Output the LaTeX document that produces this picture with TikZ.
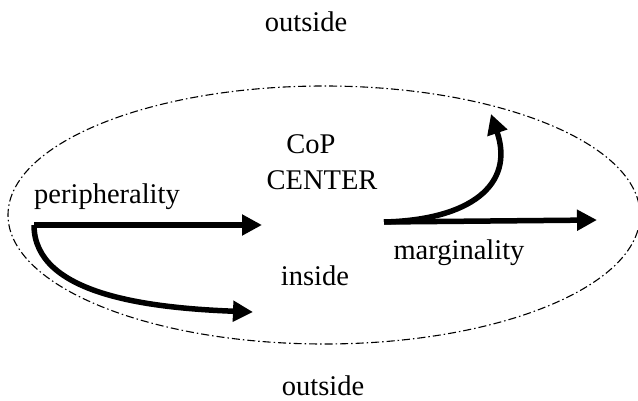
\documentclass[tikz,border=0pt]{standalone}
\usepackage{fontspec}
\setmainfont{Liberation Serif}
\usetikzlibrary{arrows.meta}
\begin{document}
\begin{tikzpicture}[x=1pt,y=-1pt,
  lbl/.style={font=\fontsize{28.5}{34}\selectfont, inner sep=0pt, align=center},
  bigarrow/.style={line width=5.5pt, -{Triangle[length=20pt,width=20pt]}},
  border/.style={line width=1.1pt, dash pattern=on 8pt off 3pt on 1.5pt off 3pt}]
\useasboundingbox (0,0) rectangle (638,401);
\draw[border] (324,215) ellipse [x radius=316, y radius=129];
\node[lbl] (out1) at (306,22) {outside};
\node[lbl] (out2) at (323,386) {outside};
\node[lbl] (cop) at (311,144) {CoP};
\node[lbl] (cen) at (322,180) {CENTER};
\node[lbl] (per) at (107,197) {peripherality};
\node[lbl] (ins) at (315,276) {inside};
\node[lbl] (mar) at (459,253) {marginality};
\coordinate (ps) at (34,225);
\coordinate (pe1) at (262,225);
\coordinate (pe2) at (253,312);
\coordinate (ms) at (384,222);
\coordinate (me1) at (597,220);
\coordinate (me2) at (491,114);
\draw[bigarrow] (ps) -- (pe1);
\draw[bigarrow] (ps) .. controls (34,295) and (150,308) .. (pe2);
\draw[bigarrow] (ms) -- (me1);
\draw[bigarrow] (ms) .. controls (470,220) and (515,185) .. (me2);
\end{tikzpicture}
\end{document}
